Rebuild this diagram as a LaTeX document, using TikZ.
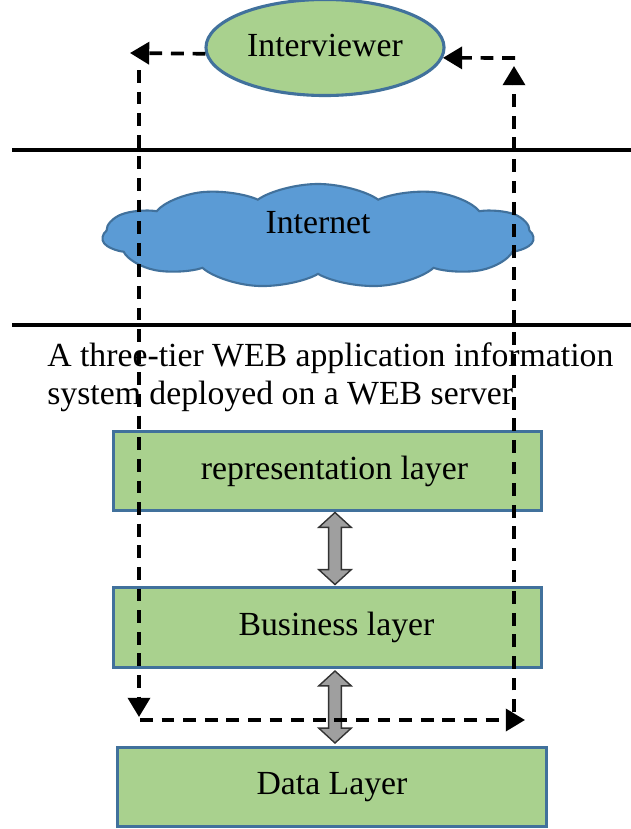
\documentclass[tikz,border=0pt]{standalone}
\usepackage{fontspec}
\setmainfont{Liberation Serif}
\usetikzlibrary{shapes.geometric,shapes.symbols,shapes.arrows,arrows.meta}

\definecolor{verde}{HTML}{A9D18E}
\definecolor{borda}{HTML}{41719C}
\definecolor{azul}{HTML}{5B9BD5}

\begin{document}
\begin{tikzpicture}[x=0.025cm,y=-0.025cm,
	font=\fontsize{24}{27}\selectfont,
	camada/.style = {draw=borda,fill=verde,line width=2.2pt,minimum width=10.7cm,minimum height=1.98cm,inner sep=0},
	seta/.style = {line width=2.6pt,dash pattern=on 0.32cm off 0.22cm,-{Triangle[length=0.48cm,width=0.55cm]}},
	duplaseta/.style = {double arrow,draw=black!80,fill=gray!75,line width=1pt,rotate=90,minimum height=1.8cm,minimum width=0.7cm,inner sep=0.14cm,double arrow tip angle=95}]
	\useasboundingbox (0,0) rectangle (631,829);

	\node[ellipse,draw=borda,fill=verde,line width=2.2pt,minimum width=5.95cm,minimum height=2.4cm,inner sep=0] (ent) at (325,47.5) {};
	\node (enttxt) at (325,45) {Interviewer};

	\draw[line width=2.2pt] (12,150) -- (631,150);
	\draw[line width=2.2pt] (12,325) -- (631,325);

	\node[cloud,cloud puffs=11,cloud puff arc=110,aspect=2,draw=borda,fill=azul,line width=1.5pt,minimum width=5.4cm,minimum height=2.6cm,inner sep=0,xscale=2] (net) at (318,236) {};
	\node (nettxt) at (318,223) {Internet};

	\node[anchor=north west,align=left,inner sep=0] (txt) at (47,342) {A three-tier WEB application information\\system deployed on a WEB server};

	\node[camada] (rep) at (327.5,471) {\hspace*{0.35cm}representation layer};
	\node[camada] (bus) at (327.5,627.5) {\hspace*{0.45cm}Business layer};
	\node[camada] (dat) at (332,787) {Data Layer};

	\node[duplaseta] (d1) at (335,548.5) {};
	\node[duplaseta] (d2) at (335,707) {};

	\coordinate (la) at (130,53);
	\coordinate (lt) at (139,70);
	\coordinate (lb) at (139,717);
	\coordinate (bl) at (140,720);
	\coordinate (br) at (525,720);
	\coordinate (rb) at (514,712);
	\coordinate (rt) at (514,66);
	\coordinate (ra) at (515,58);

	\draw[seta] (ent.183) -- (la);
	\draw[seta] (lt) -- (lb);
	\draw[seta] (bl) -- (br);
	\draw[seta] (rb) -- (rt);
	\draw[seta] (ra) -- (ent.355);
\end{tikzpicture}
\end{document}
